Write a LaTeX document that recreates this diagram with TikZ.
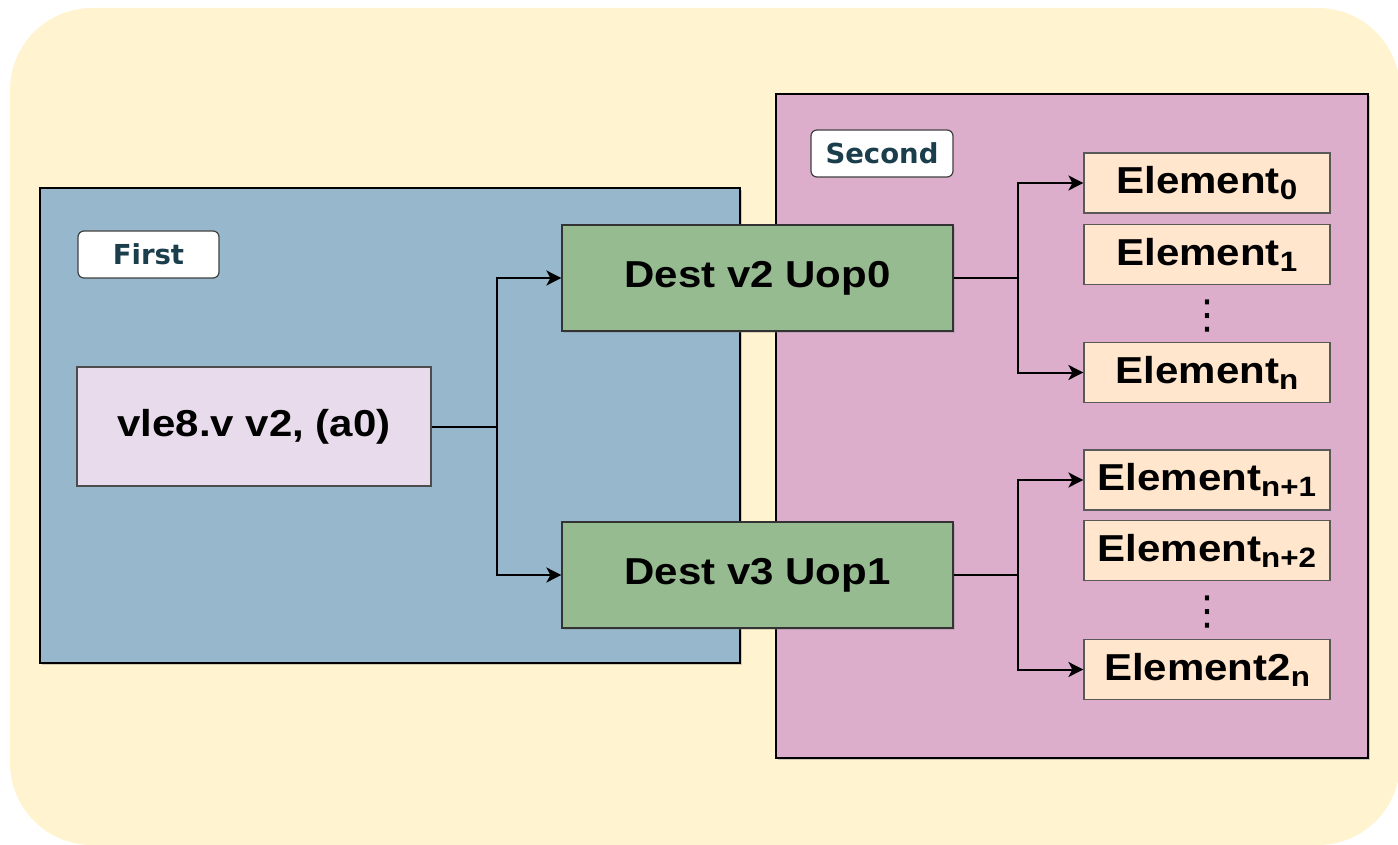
\documentclass[tikz,border=0pt]{standalone}
\usepackage{fontspec}
\setmainfont{Liberation Sans}[FakeStretch=1.12]
\newfontfamily\tagfont{DejaVu Sans}
\usetikzlibrary{arrows.meta, shadows}

\definecolor{bgyellow}{HTML}{FFF4CF}
\definecolor{firstblue}{HTML}{97B8CC}
\definecolor{secondpink}{HTML}{DDAECC}
\definecolor{instrlilac}{HTML}{E8DBEC}
\definecolor{uopgreen}{HTML}{97BB91}
\definecolor{elempeach}{HTML}{FFE6CC}
\definecolor{tagteal}{HTML}{1B3E4C}

\newcommand{\elsub}[1]{\raisebox{-6pt}{\fontsize{28}{30}\selectfont #1}}

\begin{document}
\begin{tikzpicture}[x=1pt, y=-1pt,
    region/.style = {draw=black, line width=2pt, minimum width=#1,
                     drop shadow={shadow xshift=2pt, shadow yshift=-2pt, opacity=0.35}},
    tag/.style = {draw=black!75, line width=1.2pt, fill=white, rounded corners=6pt,
                  minimum width=141pt, minimum height=47pt, text=tagteal,
                  font=\tagfont\bfseries\fontsize{27.5}{30}\selectfont},
    uop/.style = {draw=black!80, line width=1.2pt, fill=uopgreen, minimum width=391pt,
                  minimum height=106pt, font=\bfseries\fontsize{37.5}{42}\selectfont,
                  drop shadow={shadow xshift=2pt, shadow yshift=-2pt, opacity=0.3}},
    elem/.style = {draw=black!65, line width=1.2pt, fill=elempeach, minimum width=246pt,
                   minimum height=60pt, font=\bfseries\fontsize{37.5}{42}\selectfont},
    vdot/.style = {font=\tagfont\fontsize{40}{42}\selectfont, inner sep=0pt},
    wire/.style = {line width=2pt},
    conn/.style = {wire, -{Stealth[length=15pt, width=15pt, inset=4pt]}}]

    \useasboundingbox (0,0) rectangle (1398,845);

    % Background:
    \fill[bgyellow, rounded corners=82pt] (10,8) rectangle (1400,845);

    % Regions:
    \node[region=700pt, minimum height=475pt, fill=firstblue] (first) at (390,425.5) {};
    \node[region=592pt, minimum height=664pt, fill=secondpink] (second) at (1072,426) {};
    \node[tag] (firsttag) at (148.5,254.5) {First};
    \node[tag, minimum width=142pt] (secondtag) at (882,153.5) {Second};

    % Instruction and uops:
    \node[draw=black!70, line width=1.2pt, fill=instrlilac, minimum width=354pt, minimum height=119pt,
          font=\bfseries\fontsize{37.5}{42}\selectfont] (vle) at (254,426.5) {vle8.v v2, (a0)};
    \node[uop] (uop0) at (757.5,278) {Dest v2 Uop0};
    \node[uop] (uop1) at (757.5,575) {Dest v3 Uop1};

    % Elements:
    \node[elem] (el0)  at (1207,183)   {Element\elsub{0}};
    \node[elem] (el1)  at (1207,254.5) {Element\elsub{1}};
    \node[vdot] (dots0) at (1207,316)  {⋮};
    \node[elem] (eln)  at (1207,372.5) {Element\elsub{n}};
    \node[elem] (eln1) at (1207,480)   {Element\elsub{n+1}};
    \node[elem] (eln2) at (1207,550.5) {Element\elsub{n+2}};
    \node[vdot] (dots1) at (1207,612)  {⋮};
    \node[elem] (el2n) at (1207,669.5) {Element2\elsub{n}};

    % Connectors:
    \coordinate (split) at (497,426.5);
    \coordinate (splita) at (1018,278);
    \coordinate (splitb) at (1018,575);
    \draw[wire] (vle.east) -- (split);
    \draw[conn] (split) |- (uop0.west);
    \draw[conn] (split) |- (uop1.west);
    \draw[wire] (uop0.east) -- (splita);
    \draw[conn] (splita) |- (el0.west);
    \draw[conn] (splita) |- (eln.west);
    \draw[wire] (uop1.east) -- (splitb);
    \draw[conn] (splitb) |- (eln1.west);
    \draw[conn] (splitb) |- (el2n.west);
\end{tikzpicture}
\end{document}
